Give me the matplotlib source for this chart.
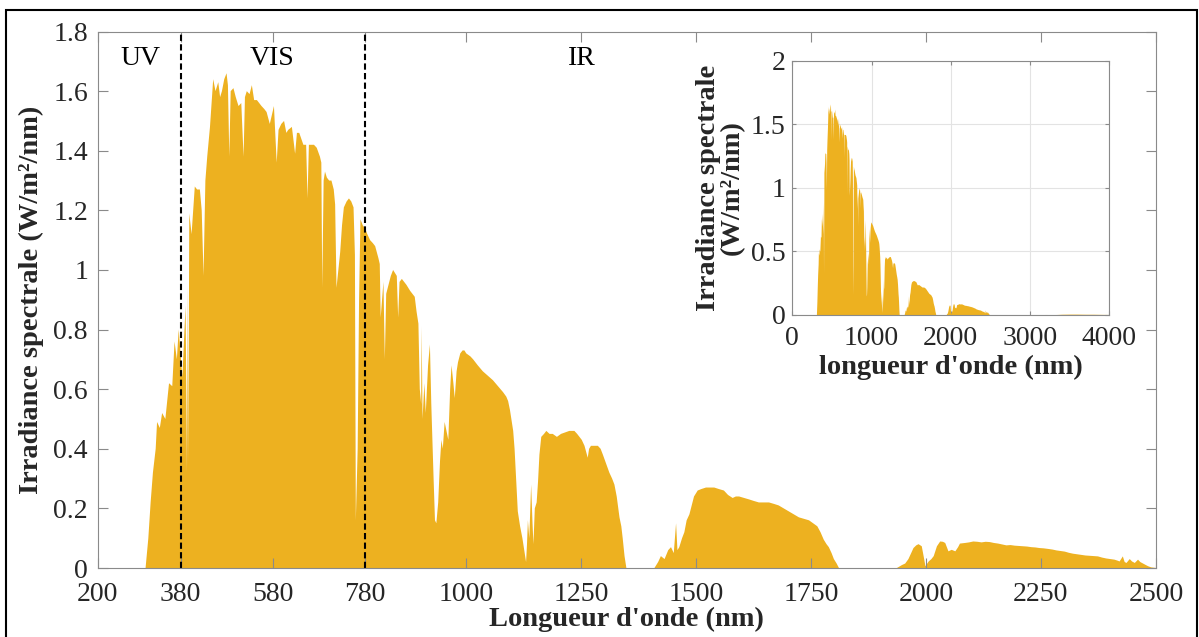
import numpy as np
import matplotlib.pyplot as plt
from matplotlib.patches import Rectangle

plt.rcParams['font.family'] = ['Liberation Serif', 'DejaVu Serif']

# AM1.5 spectrum (nm, W/m2/nm)
wl = [280, 304, 310, 315, 320, 326, 329, 335, 340, 347, 355, 362, 367, 372, 376,
      380, 384, 388, 391, 394, 396, 397, 399, 404, 411, 416, 422, 426, 430, 434,
      438, 444, 451, 456, 462, 466, 470, 475, 480, 483, 486, 489, 495, 500, 506,
      512, 517, 520, 524, 530, 535, 540, 546, 551, 556, 562, 567, 574, 583, 589,
      593, 599, 605, 610, 614, 622, 629, 633, 638, 647, 653, 656, 659, 663, 670,
      676, 683, 686, 688, 691, 694, 698, 703, 708, 713, 716, 719, 723, 727, 731,
      735, 741, 746, 751, 756, 759, 761, 765, 768, 771, 776, 781, 786, 792, 798,
      803, 810, 813, 815, 818, 821, 824, 827, 832, 837, 842, 846, 850, 853, 856,
      861, 866, 871, 875, 879, 884, 889, 893, 897, 900, 903, 904, 906, 910, 913,
      918, 922, 925, 930, 933, 936, 940, 944, 947, 950, 954, 958, 962, 966, 969,
      973, 976, 980, 983, 988, 993, 997, 1001, 1010, 1016, 1026, 1037, 1048, 1059, 1070,
      1081, 1088, 1092, 1096, 1099, 1103, 1106, 1110, 1113, 1118, 1123, 1127, 1131, 1133, 1135,
      1138, 1142, 1145, 1147, 1150, 1154, 1157, 1160, 1164, 1170, 1175, 1182, 1189, 1198, 1207,
      1216, 1225, 1236, 1242, 1247, 1252, 1258, 1265, 1268, 1272, 1280, 1287, 1293, 1298, 1305,
      1312, 1318, 1323, 1328, 1334, 1338, 1341, 1345, 1349, 1410, 1418, 1424, 1432, 1440, 1446,
      1452, 1457, 1460, 1464, 1470, 1475, 1480, 1486, 1491, 1496, 1500, 1504, 1512, 1522, 1531,
      1540, 1550, 1561, 1570, 1580, 1587, 1594, 1605, 1616, 1626, 1637, 1648, 1659, 1670, 1680,
      1691, 1702, 1713, 1724, 1735, 1746, 1755, 1764, 1771, 1778, 1784, 1789, 1795, 1800, 1806,
      1811, 1937, 1948, 1955, 1962, 1968, 1973, 1979, 1984, 1991, 1995, 1999, 2006, 2012, 2017,
      2024, 2031, 2037, 2042, 2049, 2056, 2064, 2070, 2074, 2085, 2094, 2103, 2112, 2121, 2130,
      2139, 2148, 2157, 2166, 2175, 2184, 2193, 2202, 2211, 2220, 2229, 2238, 2247, 2256, 2266,
      2275, 2284, 2293, 2302, 2311, 2320, 2329, 2338, 2347, 2356, 2365, 2374, 2383, 2392, 2401,
      2410, 2416, 2421, 2428, 2432, 2436, 2443, 2448, 2454, 2461, 2466, 2472, 2478, 2483, 2490,
      2500, 3000, 3100, 3200, 3300, 3400, 3500, 3600, 3700, 3800, 3900, 4000]
irr = [0, 0, 0.10, 0.22, 0.32, 0.40, 0.49, 0.47, 0.52, 0.50, 0.62, 0.61, 0.76, 0.70, 0.80,
       0.72, 0.64, 0.78, 0.88, 0.32, 0.95, 0.35, 1.19, 1.12, 1.28, 1.27, 1.27, 1.20, 0.98, 1.30,
       1.38, 1.48, 1.64, 1.60, 1.63, 1.58, 1.60, 1.64, 1.66, 1.62, 1.38, 1.60, 1.61, 1.58, 1.55,
       1.56, 1.38, 1.58, 1.60, 1.59, 1.62, 1.57, 1.57, 1.56, 1.55, 1.54, 1.53, 1.49, 1.55, 1.36,
       1.47, 1.49, 1.50, 1.46, 1.47, 1.48, 1.39, 1.46, 1.46, 1.42, 1.42, 1.24, 1.42, 1.42, 1.42,
       1.41, 1.38, 1.36, 0.94, 1.30, 1.33, 1.31, 1.30, 1.30, 1.27, 1.22, 0.94, 1.00, 1.06, 1.15,
       1.21, 1.23, 1.24, 1.23, 1.21, 1.05, 0.16, 0.40, 0.90, 1.17, 1.15, 1.14, 1.12, 1.10, 1.09,
       1.08, 1.04, 1.02, 0.84, 0.90, 0.96, 0.70, 0.92, 0.95, 0.98, 1.00, 0.99, 0.98, 0.84, 0.96,
       0.97, 0.96, 0.95, 0.94, 0.93, 0.92, 0.91, 0.86, 0.82, 0.60, 0.55, 0.81, 0.50, 0.62, 0.52,
       0.68, 0.75, 0.55, 0.30, 0.16, 0.15, 0.22, 0.36, 0.43, 0.40, 0.49, 0.46, 0.43, 0.60, 0.68,
       0.62, 0.57, 0.66, 0.69, 0.72, 0.73, 0.73, 0.72, 0.71, 0.70, 0.68, 0.66, 0.645, 0.63, 0.61,
       0.59, 0.575, 0.56, 0.53, 0.50, 0.46, 0.40, 0.28, 0.19, 0.14, 0.10, 0.06, 0.02, 0.08, 0.16,
       0.10, 0.28, 0.15, 0.08, 0.20, 0.22, 0.29, 0.38, 0.44, 0.45, 0.46, 0.45, 0.45, 0.44, 0.45,
       0.455, 0.46, 0.46, 0.45, 0.44, 0.43, 0.41, 0.37, 0.40, 0.41, 0.41, 0.41, 0.40, 0.38, 0.35,
       0.32, 0.30, 0.28, 0.24, 0.17, 0.14, 0.10, 0.04, 0, 0, 0.02, 0.04, 0.03, 0.06, 0.07,
       0.05, 0.15, 0.06, 0.07, 0.10, 0.12, 0.16, 0.18, 0.21, 0.24, 0.25, 0.26, 0.265, 0.27, 0.27,
       0.27, 0.265, 0.26, 0.245, 0.235, 0.24, 0.24, 0.235, 0.23, 0.225, 0.22, 0.22, 0.22, 0.215, 0.21,
       0.20, 0.19, 0.18, 0.17, 0.165, 0.16, 0.15, 0.14, 0.12, 0.095, 0.08, 0.07, 0.05, 0.03, 0.015,
       0, 0, 0.01, 0.015, 0.03, 0.05, 0.067, 0.076, 0.08, 0.073, 0.04, 0.006, 0.022, 0.03, 0.04,
       0.073, 0.089, 0.088, 0.084, 0.056, 0.061, 0.056, 0.07, 0.082, 0.084, 0.086, 0.089, 0.088, 0.086, 0.088,
       0.087, 0.084, 0.082, 0.079, 0.076, 0.077, 0.075, 0.074, 0.073, 0.072, 0.070, 0.069, 0.067, 0.066, 0.064,
       0.062, 0.059, 0.057, 0.055, 0.051, 0.048, 0.046, 0.044, 0.042, 0.041, 0.040, 0.039, 0.035, 0.032, 0.030,
       0.028, 0.025, 0.022, 0.039, 0.020, 0.017, 0.030, 0.022, 0.017, 0.028, 0.020, 0.015, 0.010, 0.006, 0.002,
       0, 0, 0.003, 0.004, 0.003, 0.006, 0.007, 0.007, 0.006, 0.006, 0.005, 0.004]

main_xticks = [200, 380, 580, 780, 1000, 1250, 1500, 1750, 2000, 2250, 2500]
main_yticks = [0, 0.2, 0.4, 0.6, 0.8, 1, 1.2, 1.4, 1.6, 1.8]
inset_xticks = [0, 1000, 2000, 3000, 4000]
inset_yticks = [0, 0.5, 1, 1.5, 2]
bounds = [380, 780]
regions = ['UV', 'VIS', 'IR']
region_x = [293, 579, 1252]

col = '#EDB120'
spine = '#8a8a8a'
txt = '#262626'
fs = 20
fl = 20.5

fig = plt.figure(figsize=(11.99, 6.37), dpi=100)

# figure frame
fig.patches.append(Rectangle((6 / 1199, -0.05), 1191 / 1199, (627 / 637) + 0.05,
                             transform=fig.transFigure, fill=False, ec='k', lw=1.5))

ax = fig.add_axes([0.0815, 0.1083, 0.8826, 0.8422])
ax.fill_between(wl, irr, color=col, lw=0)
for b in bounds:
    ax.axvline(b, color='k', ls='--', lw=1.5, dashes=(3, 1.6))
for r, xr in zip(regions, region_x):
    ax.text(xr, 1.71, r, ha='center', va='center', fontsize=fs, color='k')
ax.set_xlim(200, 2500)
ax.set_ylim(0, 1.8)
ax.set_xticks(main_xticks)
ax.set_xticklabels([str(t) for t in main_xticks])
ax.set_yticks(main_yticks)
ax.set_yticklabels(['0', '0.2', '0.4', '0.6', '0.8', '1', '1.2', '1.4', '1.6', '1.8'])
ax.tick_params(direction='in', length=7, width=0.8, color=spine, labelsize=fs,
               labelcolor=txt, top=True, right=True)
ax.tick_params(axis='x', pad=10)
ax.tick_params(axis='y', pad=7)
for s in ax.spines.values():
    s.set_color(spine)
ax.set_xlabel("Longueur d'onde (nm)", fontsize=fl, fontweight='bold', color=txt)
ax.set_ylabel('Irradiance spectrale (W/m²/nm)', fontsize=fl, fontweight='bold', color=txt)
ax.xaxis.set_label_coords(0.5, -0.073)
ax.yaxis.set_label_coords(-0.051, 0.5)

# inset with full range
ins = fig.add_axes([0.6608, 0.5055, 0.2644, 0.3992])
ins.fill_between(wl, irr, color=col, lw=0)
ins.set_xlim(0, 4000)
ins.set_ylim(0, 2)
ins.set_xticks(inset_xticks)
ins.set_yticks(inset_yticks)
ins.set_yticklabels(['0', '0.5', '1', '1.5', '2'])
ins.grid(True, color='#e3e3e3', lw=0.8)
ins.set_axisbelow(True)
ins.tick_params(direction='in', length=3, width=0.8, color=spine, labelsize=fs,
                labelcolor=txt, top=True, right=True)
ins.tick_params(axis='x', pad=8)
ins.tick_params(axis='y', pad=5)
for s in ins.spines.values():
    s.set_color(spine)
ins.set_xlabel("longueur d'onde (nm)", fontsize=fl, fontweight='bold', color=txt, labelpad=3)
ins.set_ylabel('Irradiance spectrale\n(W/m²/nm)', fontsize=fl, fontweight='bold',
               color=txt, linespacing=0.95, labelpad=4)

fig.savefig('out.png', dpi=100)
